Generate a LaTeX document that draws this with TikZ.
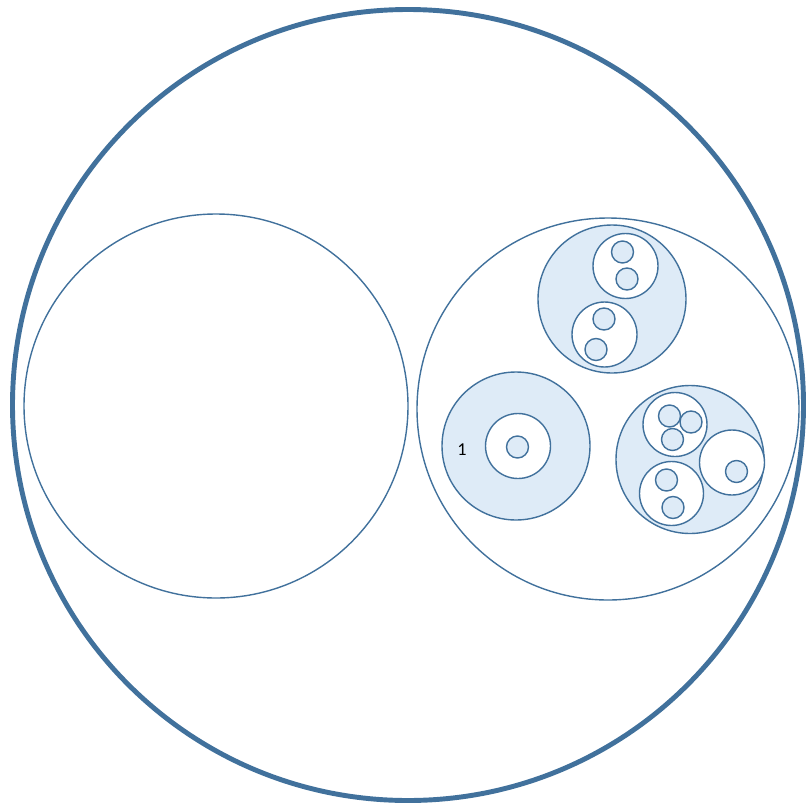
\documentclass[tikz,border=0pt]{standalone}
\usepackage{fontspec}
\setmainfont{Carlito}
\begin{document}
\begin{tikzpicture}[x=0.03cm, y=-0.03cm]
    \definecolor{borderColour}{HTML}{41719C}
    \definecolor{fillColourA}{HTML}{DEEBF7}

    \tikzset{
        outer/.style={draw=borderColour, line width=4.2pt},
        ring/.style={draw=borderColour, line width=1.2pt},
        shaded/.style={ring, fill=fillColourA},
        hole/.style={ring, fill=white},
        dot/.style={ring, fill=fillColourA}
    }

    \useasboundingbox (0,0) rectangle (806,805);

    % Draw the outer circle
    \draw[outer] (408,405) circle (395.5);

    % Left and right halves
    \draw[ring] (216,406) circle (192);
    \draw[ring] (608,409) circle (191);

    % Cell on top: two holes with two dots each
    \coordinate (T) at (612,299);
    \draw[shaded] (T) circle (74);
    \draw[hole] (625.5,266) circle (32.5);
    \draw[hole] (604.5,334.5) circle (32.5);
    \foreach \x/\y in {622.5/252, 627/279, 604/319, 596/349.5}
        \draw[dot] (\x,\y) circle (11);

    % Cell on the left: one hole with one dot
    \coordinate (L) at (516,446);
    \draw[shaded] (L) circle (74);
    \draw[hole] (518,446) circle (32.5);
    \draw[dot] (517.5,447) circle (11);
    \node (one) at (462,450) {\fontsize{15.5}{18}\selectfont 1};

    % Cell on the right: three holes
    \coordinate (R) at (690,459.5);
    \draw[shaded] (R) circle (74);
    \draw[hole] (675,424.5) circle (32);
    \draw[hole] (732,462.5) circle (32.5);
    \draw[hole] (671.5,493.5) circle (32);
    \foreach \x/\y in {669.5/416, 691/422, 672.5/439.5, 736.5/471.5, 666.5/480, 673/507.5}
        \draw[dot] (\x,\y) circle (11);

\end{tikzpicture}
\end{document}
